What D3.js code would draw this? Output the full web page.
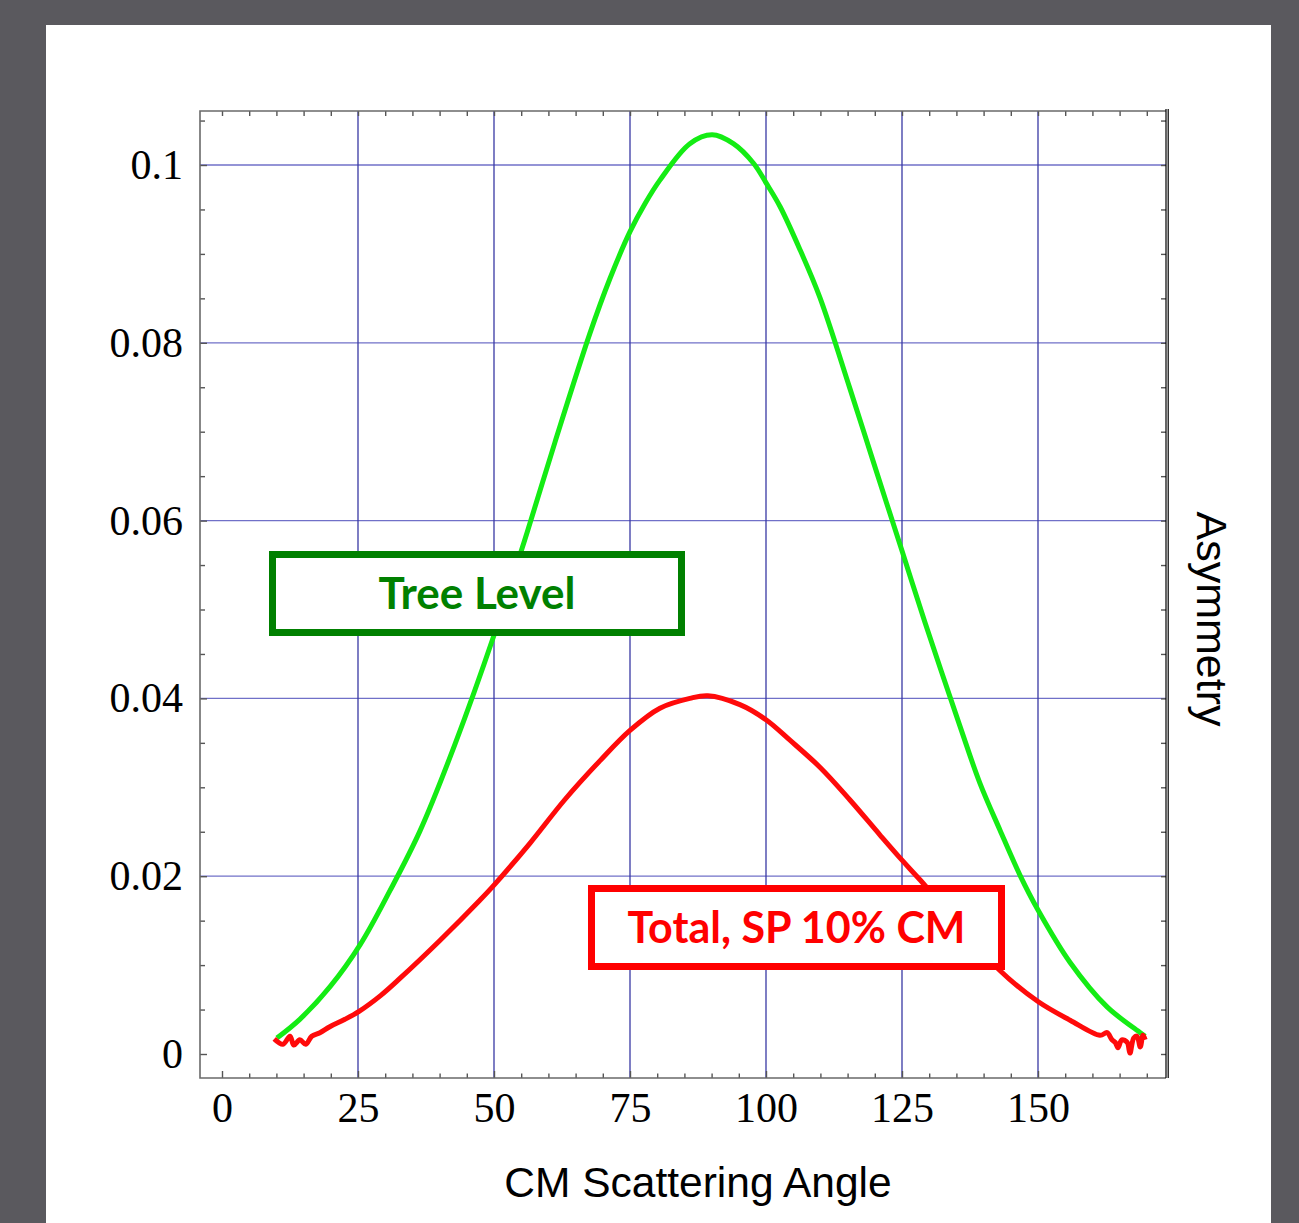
<!DOCTYPE html>
<html>
<head>
<meta charset="utf-8">
<script src="https://cdn.jsdelivr.net/npm/d3@7"></script>
<style>
  html, body { margin: 0; padding: 0; background: #5a595e; }
  svg { display: block; }
</style>
</head>
<body>
<svg id="chart" width="1299" height="1223"></svg>
<script>
// Tree level asymmetry (green) vs CM scattering angle
const treeAngle = [10.1, 14.3, 19.9, 25.4, 30.9, 36.4, 42.8, 50, 56.1, 61.2, 67.6, 71.3, 75, 77.8, 80.5,
  86, 90.1, 94, 97.7, 100.1, 102.6, 106.3, 109.9, 115.4, 120, 125, 129.2, 135.7, 139.3, 143, 146.7,
  150, 155.9, 162.7, 168.8, 169.7];
const treeAsym = [0.0018, 0.0039, 0.0076, 0.0123, 0.0184, 0.0251, 0.0348, 0.0471, 0.0587, 0.0688,
  0.0810, 0.0872, 0.0925, 0.0957, 0.0983, 0.1024, 0.1034, 0.1024, 0.1002, 0.0979, 0.0953, 0.0904,
  0.0851, 0.0749, 0.0661, 0.0566, 0.0486, 0.0368, 0.0305, 0.0252, 0.0201, 0.0162, 0.0103, 0.0053,
  0.0024, 0.0020];

// Total, SP 10% CM (red), noisy at both ends
const totalAngle = [9.6, 11.2, 12.5, 13.2, 14.3, 15.4, 16.5, 18, 19.9, 22.6, 25.2, 29.2, 32.7, 40.1,
  47.4, 50, 56.6, 63, 69.5, 75, 80.5, 86, 89.3, 95.2, 100, 104.4, 110, 115.4, 121, 125, 128.3, 143,
  150, 155.9, 161.4, 162.7, 163.6, 164.2, 164.7, 165.4, 166.4, 166.9, 167.6, 168.2, 168.8, 169.3, 169.7];
const totalAsym = [0.0017, 0.0011, 0.0020, 0.0010, 0.0016, 0.0011, 0.0020, 0.0024, 0.0031, 0.0039,
  0.0048, 0.0066, 0.0085, 0.0128, 0.0173, 0.019, 0.0237, 0.0286, 0.033, 0.0364, 0.0389, 0.040, 0.0403,
  0.0393, 0.0376, 0.0353, 0.0322, 0.0286, 0.0246, 0.0218, 0.0196, 0.0094, 0.0059, 0.0038, 0.0021,
  0.0024, 0.0016, 0.0013, 0.0007, 0.0016, 0.0013, 0.0001, 0.0018, 0.0020, 0.0008, 0.0021, 0.0016];

const xMajor = [0, 25, 50, 75, 100, 125, 150];
const yMajor = [0, 0.02, 0.04, 0.06, 0.08, 0.1];
const yLabels = ["0", "0.02", "0.04", "0.06", "0.08", "0.1"];

const svg = d3.select("#chart");

// white page
svg.append("rect").attr("x", 46).attr("y", 25).attr("width", 1225).attr("height", 1200).attr("fill", "#fff");

const x = d3.scaleLinear().domain([0, 150]).range([222, 1038]);
const y = d3.scaleLinear().domain([0, 0.1]).range([1054, 165]);

const fLeft = 200, fRight = 1166, fTop = 111, fBottom = 1078;
const xMax = x.invert(fRight);
const yMax = y.invert(fTop);

const xMinor = d3.range(0, xMax, 5).filter(v => v % 25 !== 0);
const yMinor = d3.range(0, yMax, 0.005).map(v => +v.toFixed(3)).filter(v => Math.round(v * 1000) % 20 !== 0);

// grid
const grid = svg.append("g");
grid.selectAll(".gh").data(yMajor.filter(v => v > 0)).enter().append("line")
  .attr("x1", fLeft).attr("x2", fRight).attr("y1", d => y(d)).attr("y2", d => y(d))
  .attr("stroke", "#7070c8").attr("stroke-width", 1.3);
grid.selectAll(".gv").data(xMajor.filter(v => v > 0)).enter().append("line")
  .attr("y1", fTop).attr("y2", fBottom).attr("x1", d => x(d)).attr("x2", d => x(d))
  .attr("stroke", "#3838a4").attr("stroke-width", 1.3);

// curves
const line = d3.line().x(d => x(d[0])).y(d => y(d[1])).curve(d3.curveCatmullRom.alpha(0.5));
svg.append("path").datum(d3.zip(treeAngle, treeAsym)).attr("d", line)
  .attr("fill", "none").attr("stroke", "#14ec14").attr("stroke-width", 5).attr("stroke-linejoin", "round");
svg.append("path").datum(d3.zip(totalAngle, totalAsym)).attr("d", line)
  .attr("fill", "none").attr("stroke", "#ff0a0a").attr("stroke-width", 5).attr("stroke-linejoin", "round");

// axes
function styleAxis(g) {
  g.select(".domain").remove();
  g.selectAll(".tick line").attr("stroke", "#555").attr("stroke-width", 1.4);
  g.selectAll("text").attr("font-family", "'Liberation Serif', 'Times New Roman', serif")
    .attr("font-size", 42).attr("fill", "#000");
}
svg.append("g").attr("transform", `translate(0,${fBottom})`)
  .call(d3.axisBottom(x).tickValues(xMajor).tickSize(-7).tickPadding(14).tickFormat(d3.format("d")))
  .call(styleAxis);
svg.append("g").attr("transform", `translate(0,${fBottom})`)
  .call(d3.axisBottom(x).tickValues(xMinor).tickSize(-4.5).tickFormat(""))
  .call(styleAxis);
svg.append("g").attr("transform", `translate(0,${fTop})`)
  .call(d3.axisTop(x).tickValues(xMajor.concat(xMinor)).tickSize(-5).tickFormat(""))
  .call(styleAxis);
svg.append("g").attr("transform", `translate(${fLeft},0)`)
  .call(d3.axisLeft(y).tickValues(yMajor).tickSize(-7).tickPadding(17).tickFormat((d, i) => yLabels[i]))
  .call(styleAxis);
svg.append("g").attr("transform", `translate(${fLeft},0)`)
  .call(d3.axisLeft(y).tickValues(yMinor).tickSize(-5).tickFormat(""))
  .call(styleAxis);
svg.append("g").attr("transform", `translate(${fRight},0)`)
  .call(d3.axisRight(y).tickValues(yMajor.concat(yMinor)).tickSize(-5).tickFormat(""))
  .call(styleAxis);

// frame
svg.append("path").attr("d", `M${fRight},${fTop}H${fLeft}V${fBottom}H${fRight}`)
  .attr("fill", "none").attr("stroke", "#6a6a6a").attr("stroke-width", 1.6);
svg.append("line").attr("x1", fRight).attr("x2", fRight).attr("y1", fTop - 2).attr("y2", fBottom)
  .attr("stroke", "#000").attr("stroke-width", 1.2);
svg.append("line").attr("x1", fRight + 2.2).attr("x2", fRight + 2.2).attr("y1", fTop - 2).attr("y2", fBottom)
  .attr("stroke", "#000").attr("stroke-width", 1.2);

// axis titles
svg.append("text").attr("x", 698).attr("y", 1197).attr("text-anchor", "middle")
  .attr("font-family", "'Liberation Sans', Arial, sans-serif").attr("font-size", 42.5).attr("fill", "#000")
  .text("CM Scattering Angle");
svg.append("text").attr("transform", "translate(1197,619) rotate(90)").attr("text-anchor", "middle")
  .attr("font-family", "'Liberation Sans', Arial, sans-serif").attr("font-size", 43).attr("fill", "#000")
  .text("Asymmetry");

// annotation boxes
function labelBox(x0, y0, w, h, color, label, len) {
  svg.append("rect").attr("x", x0).attr("y", y0).attr("width", w).attr("height", h)
    .attr("fill", "#fff").attr("stroke", color).attr("stroke-width", 7);
  svg.append("text").attr("x", x0 + w / 2).attr("y", y0 + h / 2).attr("dy", "0.36em")
    .attr("text-anchor", "middle").attr("font-family", "Lato, 'Open Sans', sans-serif")
    .attr("font-weight", "bold").attr("font-size", 44).attr("fill", color)
    .attr("textLength", len).attr("lengthAdjust", "spacingAndGlyphs")
    .text(label);
}
labelBox(272.5, 554.5, 409, 78, "#008000", "Tree Level", 197);
labelBox(591.5, 888.5, 410, 78, "#ff0000", "Total, SP 10% CM", 338);
</script>
</body>
</html>
